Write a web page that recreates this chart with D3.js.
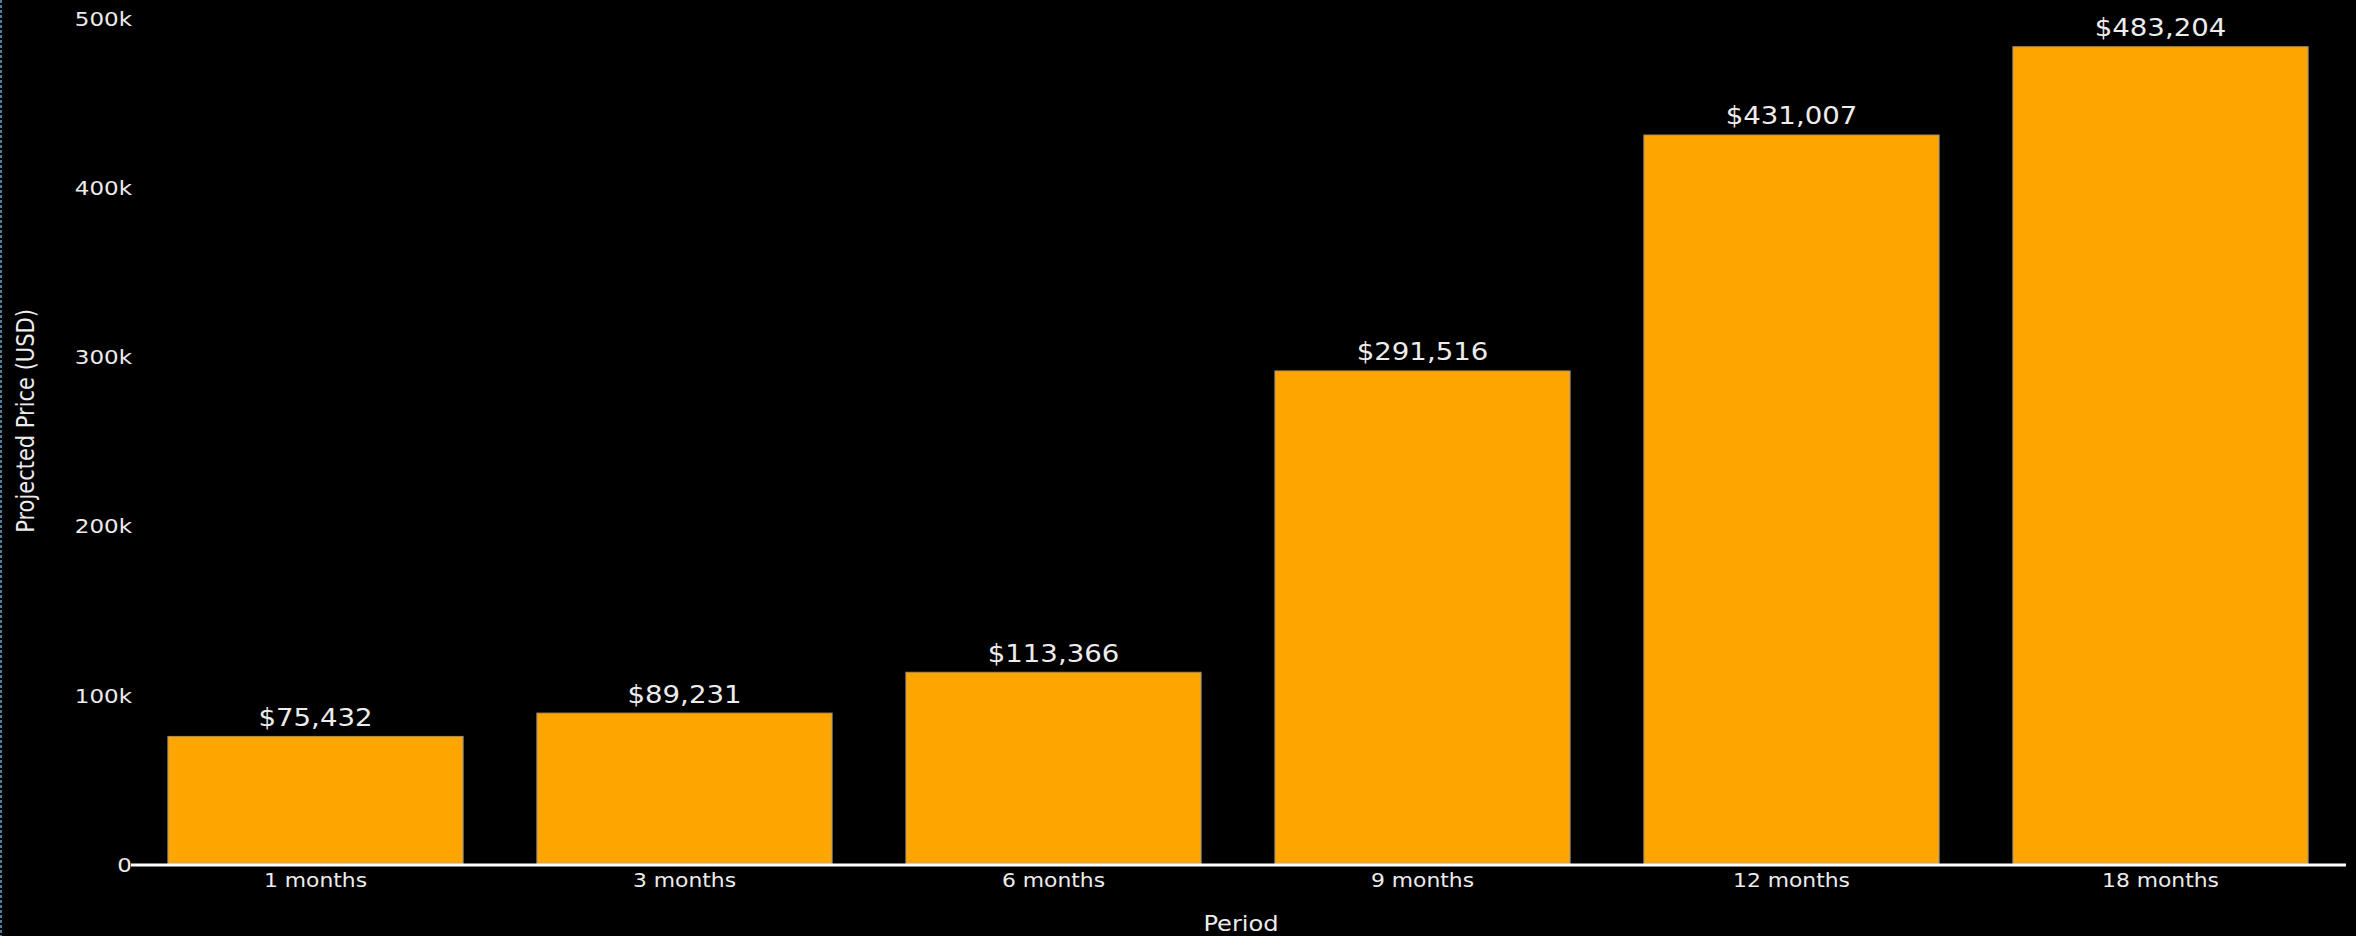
<!DOCTYPE html>
<html>
<head>
<meta charset="utf-8">
<script src="https://cdn.jsdelivr.net/npm/d3@7"></script>
<style>
  html, body { margin: 0; padding: 0; background: #000; overflow: hidden; }
  svg { display: block; }
  text { font-family: "DejaVu Sans", Verdana, sans-serif; fill: #ececec; }
</style>
</head>
<body>
<svg id="chart" width="2356" height="936"></svg>
<script>
// Projected price by period
const periods = ["1 months", "3 months", "6 months", "9 months", "12 months", "18 months"];
const prices = [75432, 89231, 113366, 291516, 431007, 483204];
const yTicks = [0, 100000, 200000, 300000, 400000, 500000];

const W = 2356, H = 936;
const svg = d3.select("#chart");
const SX = 1.15; // horizontal glyph stretch used for all labels

svg.append("rect").attr("width", W).attr("height", H).attr("fill", "#000");

// thin dashed frame edge on the left
svg.append("line")
  .attr("x1", 1).attr("x2", 1).attr("y1", 0).attr("y2", H)
  .attr("stroke", "#4b7c99").attr("stroke-width", 2)
  .attr("stroke-dasharray", "3,2");

const x = d3.scaleBand()
  .domain(periods)
  .range([131, 2345])
  .paddingInner(0.2)
  .paddingOuter(0.1);

const y = d3.scaleLinear()
  .domain([0, 500000])
  .range([864, 18.3]);

function placeText(sel, fx, fy, extra) {
  sel.attr("x", 0).attr("y", 0)
    .attr("transform", (d, i) => `translate(${fx(d, i)},${fy(d, i)}) scale(${SX},1)` + (extra || ""));
}

// bars
svg.append("g").selectAll("rect")
  .data(periods)
  .join("rect")
  .attr("x", d => x(d))
  .attr("width", x.bandwidth())
  .attr("y", (d, i) => y(prices[i]))
  .attr("height", (d, i) => y(0) - y(prices[i]))
  .attr("fill", "#FFA500")
  .attr("stroke", "#8f8f8f")
  .attr("stroke-width", 1);

// value labels above bars
const fmt = d3.format(",");
svg.append("g").selectAll("text")
  .data(periods)
  .join("text")
  .attr("text-anchor", "middle")
  .attr("font-size", 24)
  .text((d, i) => "$" + fmt(prices[i]))
  .call(placeText, d => x(d) + x.bandwidth() / 2, (d, i) => y(prices[i]) - 10.5);

// y axis tick labels
const yAxis = d3.axisLeft(y).tickValues(yTicks).tickFormat(d3.format("~s")).tickSize(0).tickPadding(0);
const gy = svg.append("g").attr("transform", "translate(132,0)").call(yAxis);
gy.select(".domain").remove();
gy.selectAll(".tick text")
  .attr("font-size", 20)
  .attr("font-family", "DejaVu Sans, Verdana, sans-serif")
  .attr("fill", "#ececec")
  .attr("dy", "0.36em")
  .attr("x", 0)
  .attr("transform", `scale(${SX},1)`)
  .style("transform-origin", "0px 0px");

// x axis
const xAxis = d3.axisBottom(x).tickSize(0).tickPadding(0);
const gx = svg.append("g").attr("transform", "translate(0,865)").call(xAxis);
gx.select(".domain")
  .attr("d", `M131,0H2346`)
  .attr("stroke", "#ffffff")
  .attr("stroke-width", 3);
gx.selectAll(".tick text")
  .attr("font-size", 19)
  .attr("font-family", "DejaVu Sans, Verdana, sans-serif")
  .attr("fill", "#ececec")
  .attr("dy", null)
  .attr("y", 22)
  .attr("transform", `scale(${SX},1)`);

// axis titles
svg.append("text")
  .attr("text-anchor", "middle")
  .attr("font-size", 21)
  .text("Period")
  .call(placeText, () => 1241, () => 931);

svg.append("text")
  .attr("text-anchor", "middle")
  .attr("font-size", 21)
  .text("Projected Price (USD)")
  .attr("x", 0).attr("y", 0)
  .attr("transform", `translate(34,421) scale(${SX},1) rotate(-90)`);
</script>
</body>
</html>
